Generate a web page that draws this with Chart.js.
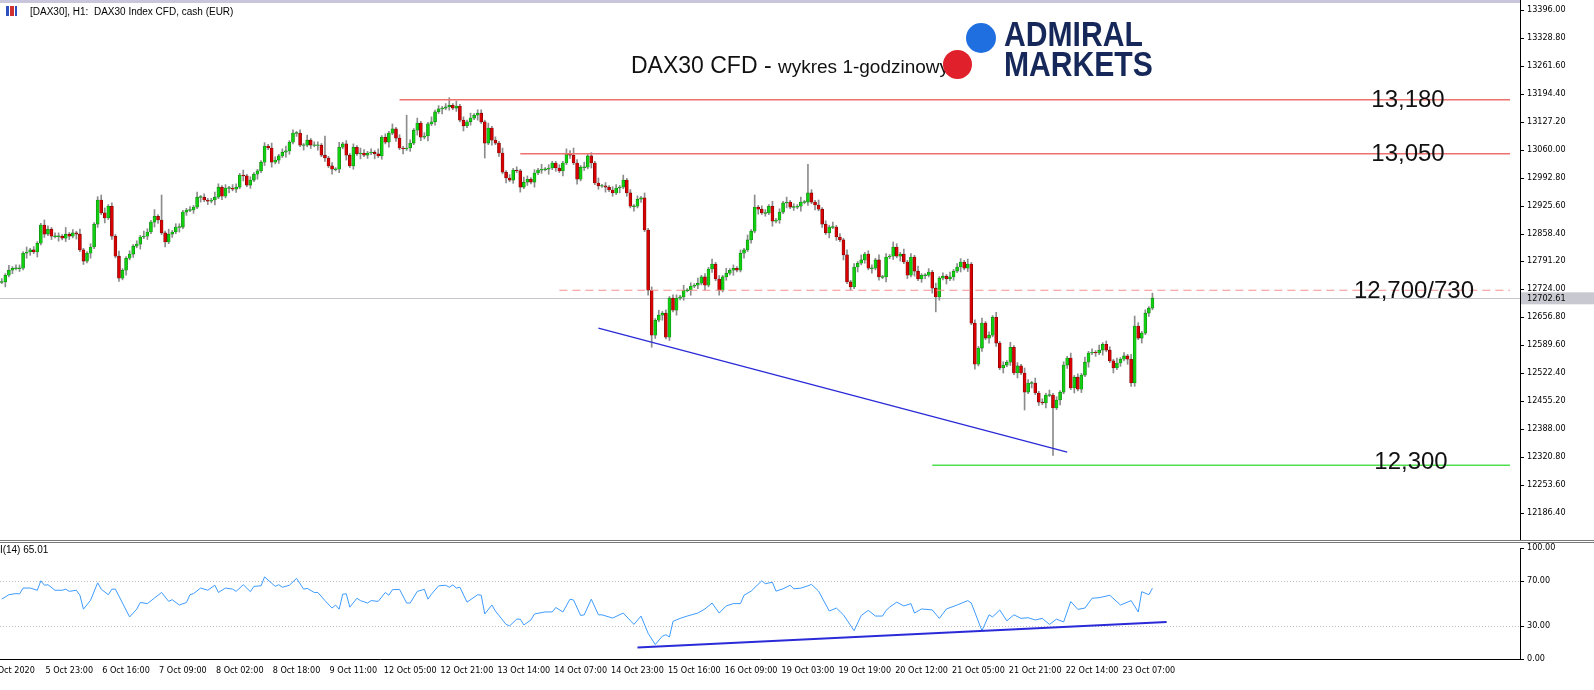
<!DOCTYPE html>
<html><head><meta charset="utf-8">
<script src="https://cdn.jsdelivr.net/npm/chart.js@4.4.1/dist/chart.umd.min.js"></script>
<style>
html,body{margin:0;padding:0;background:#fff;overflow:hidden}
#wrap{position:relative;width:1594px;height:690px;font-family:"Liberation Sans",Arial,sans-serif}
#c1{position:absolute;left:0;top:0}
#c2{position:absolute;left:0;top:541px}
.abs{position:absolute;white-space:nowrap}
</style></head><body>
<div id="wrap">
<canvas id="c1" width="1594" height="541"></canvas>
<canvas id="c2" width="1594" height="149"></canvas>
<div class="abs" style="left:0;top:0;width:1520px;height:3px;background:#c9c6dc"></div>
<div class="abs" style="left:0;top:540px;width:1594px;height:3px;border-top:1px solid #777;border-bottom:1px solid #777;box-sizing:border-box"></div>
<div class="abs" style="left:6px;top:6px;width:11px;height:10px;background:linear-gradient(90deg,#3050c0 0 30%,#fff 30% 40%,#d03030 40% 70%,#fff 70% 80%,#3050c0 80%)"></div>
<div class="abs" style="left:30px;top:6px;font-size:10px;color:#000">[DAX30], H1:&nbsp; DAX30 Index CFD, cash (EUR)</div>
<div class="abs" style="left:-14px;top:544px;font-size:10px;color:#000">RSI(14) 65.01</div>
<div class="abs" style="left:631px;top:52px;font-size:23px;color:#111">DAX30 CFD - <span style="font-size:19px">wykres 1-godzinowy</span></div>
<div class="abs" style="left:966px;top:23px;width:30px;height:30px;border-radius:50%;background:#1f6fe0"></div>
<div class="abs" style="left:943px;top:50px;width:29px;height:29px;border-radius:50%;background:#e0202a"></div>
<div class="abs" style="left:1004px;top:19px;font-family:'Liberation Sans Narrow','Liberation Sans',sans-serif;font-weight:bold;font-size:35px;line-height:30px;color:#16285a;transform:scaleX(0.86);transform-origin:0 0">ADMIRAL<br>MARKETS</div>
</div>
<script>
// ---------- DATA ----------
const closes = [
12742,12758,12770,12775,12775,12775,12811,12814,12819,12814,
12835,12879,12857,12869,12852,12852,12852,12847,12857,12852,
12860,12857,12819,12792,12811,12826,12881,12939,12908,12896,
12924,12852,12804,12751,12770,12799,12809,12828,12833,12850,
12852,12862,12886,12900,12891,12860,12838,12857,12862,12874,
12874,12910,12915,12915,12922,12946,12946,12939,12936,12939,
12946,12970,12948,12968,12968,12965,12970,12999,12997,12975,
12987,13001,13009,13030,13069,13064,13030,13035,13045,13054,
13057,13078,
13100,13100,13071,13071,13083,13071,13071,13071,13047,13040,
13021,13013,13013,13066,13074,13047,13021,13066,13050,13052,
13047,13052,13054,13050,13045,13090,13078,13100,13110,13088,
13064,13062,13064,13076,13107,13124,13090,13093,13122,13127,
13151,13158,13160,13163,13167,13160,13165,13131,13117,13127,
13136,13143,13148,13127,13076,13112,13083,13076,13052,13006,
12992,12987,13011,13009,12970,12982,12989,12982,13004,13011,
13013,13013,13016,13028,13016,13009,13028,13050,13047,13028,
12989,13018,13018,13045,13028,12980,12973,12973,12970,12963,
12956,12968,12970,12987,12956,12924,12924,12941,12944,
12867,12722,12614,12650,12662,12667,12609,12703,12674,12703,
12706,12722,12722,12732,12734,12739,12754,12734,12773,12785,
12749,12722,12754,12763,12770,12775,12770,12811,12819,12843,
12864,12922,12917,12908,12908,12924,12888,12891,12910,12932,
12934,12922,12922,12924,12934,12934,12956,12934,12927,12917,
12881,12860,12874,12874,12850,12843,12807,12742,12730,12778,
12787,12795,12809,12775,12775,12795,12754,12754,12802,12804,
12826,12804,12809,12790,12758,12802,12768,12749,12758,12758,
12766,12727,12706,12751,12756,12749,12754,12768,12778,
12790,12775,12785,12643,12544,12583,12643,12607,12614,12657,
12595,12535,12542,12549,12585,12523,12540,12523,12477,12499,
12499,12475,12453,12451,12470,12470,12439,12458,12477,12542,
12559,12487,12513,12484,12518,12549,12571,12573,12571,12578,
12592,12578,12552,12535,12547,12556,12564,12556,12499,12636,
12607,12619,12667,12679,12703
];
// wick lengths (x4 points) per candle, estimated
const wickUp = ("2131221312113212214121311212331213112121321412131221" +
 "1213121132121221312111213212312121312213121312121321" +
 "2131213121221312131212213121312213121312121321213121" +
 "1213212131213121221312121312131212213121312131213121" +
 "2131212213121312131221312131213121312213121321312131" +
 "1213121312213121312131213121321312131212131213121312" +
 "21312131212131212").split("").map(Number);
const wickDn = ("1312121321312121312213121312131212131213121321312131" +
 "2121312131213121312131213121321213121312131213121312" +
 "1312131213121321312131212131213121312131213121312131" +
 "2131213121312131213121312131213121312131213121312131" +
 "1312131213121312131213121312131213121312131213121312" +
 "2131213121312131213121312131213121312131213121312131" +
 "13121312131213121").split("").map(Number);
const highOverride = {45:12951, 91:13093, 114:13143, 126:13185, 161:13064, 212:12951, 227:13025, 319:12660};
const lowOverride = {136:13040, 183:12585, 263:12670, 288:12434, 296:12325, 318:12491};
const yTickValues = [13396.00,13328.80,13261.60,13194.40,13127.20,13060.00,12992.80,12925.60,12858.40,12791.20,12724.00,12656.80,12589.60,12522.40,12455.20,12388.00,12320.80,12253.60,12186.40];
const levels = [ {value:13180, from:112, text:"13,180"}, {value:13050, from:146, text:"13,050"} ];
const zoneLevel = {value:12722, from:157, text:"12,700/730"};
const supportLevel = {value:12301, from:262, text:"12,300"};
const lastPrice = 12702.61;
const trendPrice = [[168,12631],[300,12333]];
const rsiIdx = [0,2,4,5,6,8,10,11,12,13,15,17,18,19,21,22,23,25,27,28,30,31,32,34,36,38,39,41,43,45,47,48,50,52,53,54,56,58,60,61,63,65,66,68,70,71,73,74,77,78,79,81,83,85,86,88,89,91,93,94,95,96,97,98,100,101,103,104,106,108,109,110,112,114,115,117,119,120,121,123,125,126,127,128,129,131,134,135,136,138,139,142,143,145,146,147,149,150,153,155,156,158,160,161,163,164,166,168,169,172,175,178,180,182,184,186,187,188,189,191,193,196,198,200,202,204,206,208,209,211,214,215,217,218,220,222,223,225,227,228,230,233,235,237,240,242,244,246,248,249,250,252,254,256,257,259,262,264,266,269,272,273,276,278,279,281,283,285,287,289,291,293,295,297,299,301,303,305,307,309,312,315,318,320,321,323,324];
const rsiVal = [54,58,59,58.7,64,64,62,70.5,66.5,67,62,62,63,61,62,57.5,45,53,68.7,63,58,63,63,50.5,38,45,51,50,55,60,52,53.5,48.7,51,58,59,64,62,66.5,60,64,63,61,67,60.7,65.5,66,74,65.5,67,64.7,66.5,72.7,63,63.7,60,60,52.7,46,48.7,45,58.5,58.8,46.8,54.8,52.7,50.5,52.7,52,60,57.5,62.5,62.8,50.5,50.5,61,62.8,54,58.5,66,66.5,64.7,66.8,64,64.7,51.3,58,57.5,40.7,48.7,43.3,31.3,30,36,36,30.8,35.3,40.7,42.5,42.5,46.5,42.5,54,53.2,39.3,39.9,54,39.9,39.9,37,41.5,31.3,38.8,23.3,13.2,20.7,22,20,34,36.7,38.8,41.5,45.2,50.5,41.5,47.9,50,50,57.5,61.2,70.5,67.9,69.2,61.2,63.3,66.5,63.3,63.9,66,67.3,61.2,43.3,46,39.9,25.6,39.3,43.9,38.8,38.8,43.9,46.8,51.3,47.9,50,41.5,45.2,44.3,36.7,45.2,48.7,52.7,50.5,25.6,39.9,38,44.3,34.5,39.9,36.7,37.3,35.3,36.7,31.3,36,33.5,51.9,44.8,46,54.8,55.3,57.5,48.7,52.7,42.5,60.7,58,63.9,65.01];
const rsiTrend = [[179,10.5],[328,33.5]];
const rsiTicks = [0,30,70,100];
const rsiLevels = [30,70];
const xTickIdx = [3,19,35,51,67,83,99,115,131,147,163,179,195,211,227,243,259,275,291,307,323];
const xTickLabels = ["5 Oct 2020","5 Oct 23:00","6 Oct 16:00","7 Oct 09:00","8 Oct 02:00","8 Oct 18:00","9 Oct 11:00","12 Oct 05:00","12 Oct 21:00","13 Oct 14:00","14 Oct 07:00","14 Oct 23:00","15 Oct 16:00","16 Oct 09:00","19 Oct 03:00","19 Oct 19:00","20 Oct 12:00","21 Oct 05:00","21 Oct 21:00","22 Oct 14:00","23 Oct 07:00"];

// ---------- BUILD ----------
const bodies=[], wicks=[], bodyCol=[], bodyBorder=[];
closes.forEach((c,i)=>{
  const o = i===0 ? c : closes[i-1];
  let a=o,b=c;
  if (Math.abs(a-b)<2){a=o+1;b=o-1;}
  bodies.push({x:i,y:[a,b]});
  let hi = Math.max(o,c) + 4*(wickUp[i]||1);
  let lo = Math.min(o,c) - 4*(wickDn[i]||1);
  if (highOverride[i]!==undefined) hi = highOverride[i];
  if (lowOverride[i]!==undefined) lo = lowOverride[i];
  wicks.push({x:i,y:[lo,hi]});
  const up = c>=o;
  bodyCol.push(up?'#10d010':'#d80000');
  bodyBorder.push(up?'#107a10':'#700000');
});
const XMIN=-0.5, XMAX=427.5;
const FONT="9px 'DejaVu Sans Condensed','DejaVu Sans', sans-serif";
function fixW(s){s.width=74;}
function drawYLabels(ch, vals, dec){
  const {ctx,chartArea:a,scales:{y}}=ch;
  ctx.save();ctx.font=FONT;ctx.fillStyle='#000';ctx.textAlign='left';ctx.textBaseline='middle';
  ctx.strokeStyle='#000';ctx.lineWidth=1;
  vals.forEach(v=>{const p=Math.round(y.getPixelForValue(v));
    ctx.beginPath();ctx.moveTo(a.right,p+0.5);ctx.lineTo(a.right+4,p+0.5);ctx.stroke();
    ctx.fillText(v.toFixed(dec),a.right+7,p);});
  ctx.restore();
}

const overlay = {
  id:'overlay',
  beforeDatasetsDraw(ch){
    const {ctx,chartArea:a,scales:{x,y}}=ch;
    const py=Math.round(y.getPixelForValue(lastPrice))+0.5;
    ctx.save();ctx.strokeStyle='#c4c4cc';ctx.lineWidth=1;
    ctx.beginPath();ctx.moveTo(a.left,py);ctx.lineTo(a.right,py);ctx.stroke();ctx.restore();
  },
  afterDatasetsDraw(ch){
    const {ctx,chartArea:a,scales:{x,y}}=ch;
    ctx.save();
    const endX = a.right-10;
    const drawLvl=(lv,col,dash,w)=>{
      const py=y.getPixelForValue(lv.value);
      ctx.strokeStyle=col;ctx.lineWidth=w;ctx.setLineDash(dash);
      ctx.beginPath();ctx.moveTo(x.getPixelForValue(lv.from),py);ctx.lineTo(endX,py);ctx.stroke();
      ctx.setLineDash([]);
      return py;
    };
    ctx.font="24px 'Liberation Sans', Arial, sans-serif";ctx.fillStyle='#111';ctx.textBaseline='middle';ctx.textAlign='center';
    levels.forEach(lv=>{const py=drawLvl(lv,'#f07070',[],1.5);ctx.fillText(lv.text,1408,py+1);});
    let py=drawLvl(zoneLevel,'#f59090',[8,5],1.2);ctx.fillText(zoneLevel.text,1414,py+1);
    py=drawLvl(supportLevel,'#50e050',[],1.5);ctx.fillText(supportLevel.text,1411,py-3);
    ctx.strokeStyle='#2a2ad8';ctx.lineWidth=1.3;ctx.beginPath();
    ctx.moveTo(x.getPixelForValue(trendPrice[0][0]),y.getPixelForValue(trendPrice[0][1]));
    ctx.lineTo(x.getPixelForValue(trendPrice[1][0]),y.getPixelForValue(trendPrice[1][1]));ctx.stroke();
    ctx.restore();
    drawYLabels(ch, yTickValues, 2);
    ctx.save();
    const pp=y.getPixelForValue(lastPrice);
    ctx.fillStyle='#c8c8d0';ctx.fillRect(a.right+1,pp-6,73,12);
    ctx.fillStyle='#000';ctx.font=FONT;ctx.textAlign='left';ctx.textBaseline='middle';
    ctx.fillText(lastPrice.toFixed(2),a.right+7,pp);
    ctx.restore();
  }
};

new Chart(document.getElementById('c1'),{
  type:'bar',
  data:{datasets:[
    {data:bodies,backgroundColor:bodyCol,borderColor:bodyBorder,borderWidth:0.6,borderSkipped:false,barThickness:3,grouped:false,order:0},
    {data:wicks,backgroundColor:'#8c8c8c',borderWidth:0,barThickness:1,grouped:false,order:1}
  ]},
  options:{responsive:false,animation:false,
    layout:{padding:0},
    plugins:{legend:{display:false},tooltip:{enabled:false}},
    scales:{
      x:{type:'linear',min:XMIN,max:XMAX,display:false,offset:false},
      y:{position:'right',min:12119,max:13420,afterFit:fixW,
        ticks:{display:false},
        grid:{display:false,drawTicks:false},
        border:{display:true,color:'#000',width:1}}
    }},
  plugins:[overlay]
});

const rsiOverlay={
  id:'rsiOverlay',
  beforeDatasetsDraw(ch){
    const {ctx,chartArea:a,scales:{y}}=ch;
    ctx.save();ctx.strokeStyle='#bdbdbd';ctx.lineWidth=1;ctx.setLineDash([1,2]);
    rsiLevels.forEach(v=>{const p=Math.round(y.getPixelForValue(v))+0.5;
      ctx.beginPath();ctx.moveTo(a.left,p);ctx.lineTo(a.right,p);ctx.stroke();});
    ctx.restore();
  },
  afterDatasetsDraw(ch){
    const {ctx,scales:{x,y}}=ch;
    ctx.save();ctx.strokeStyle='#2a2ad8';ctx.lineWidth=2;ctx.beginPath();
    ctx.moveTo(x.getPixelForValue(rsiTrend[0][0]),y.getPixelForValue(rsiTrend[0][1]));
    ctx.lineTo(x.getPixelForValue(rsiTrend[1][0]),y.getPixelForValue(rsiTrend[1][1]));ctx.stroke();ctx.restore();
    drawYLabels(ch, rsiTicks, 2);
  }
};
new Chart(document.getElementById('c2'),{
  type:'line',
  data:{datasets:[{data:rsiIdx.map((v,i)=>({x:v,y:rsiVal[i]})),borderColor:'#3d9bff',borderWidth:1,pointRadius:0,tension:0}]},
  options:{responsive:false,animation:false,
    layout:{padding:{left:0,right:0,top:7,bottom:12}},
    plugins:{legend:{display:false},tooltip:{enabled:false}},
    scales:{
      x:{type:'linear',min:XMIN,max:XMAX,
        afterFit(s){s.paddingLeft=0;s.paddingRight=0;},
        afterBuildTicks(s){s.ticks=xTickIdx.map(v=>({value:v}));},
        ticks:{font:{family:"'DejaVu Sans Condensed','DejaVu Sans',sans-serif",size:9},color:'#000',maxRotation:0,autoSkip:false,padding:2,callback:v=>xTickLabels[xTickIdx.indexOf(v)]},
        grid:{display:false,drawTicks:true,tickLength:4},
        border:{display:true,color:'#000'}},
      y:{position:'right',min:0,max:100,afterFit:fixW,
        ticks:{display:false},
        grid:{display:false,drawTicks:false},
        border:{display:true,color:'#000'}}
    }},
  plugins:[rsiOverlay]
});
</script>
</body></html>
